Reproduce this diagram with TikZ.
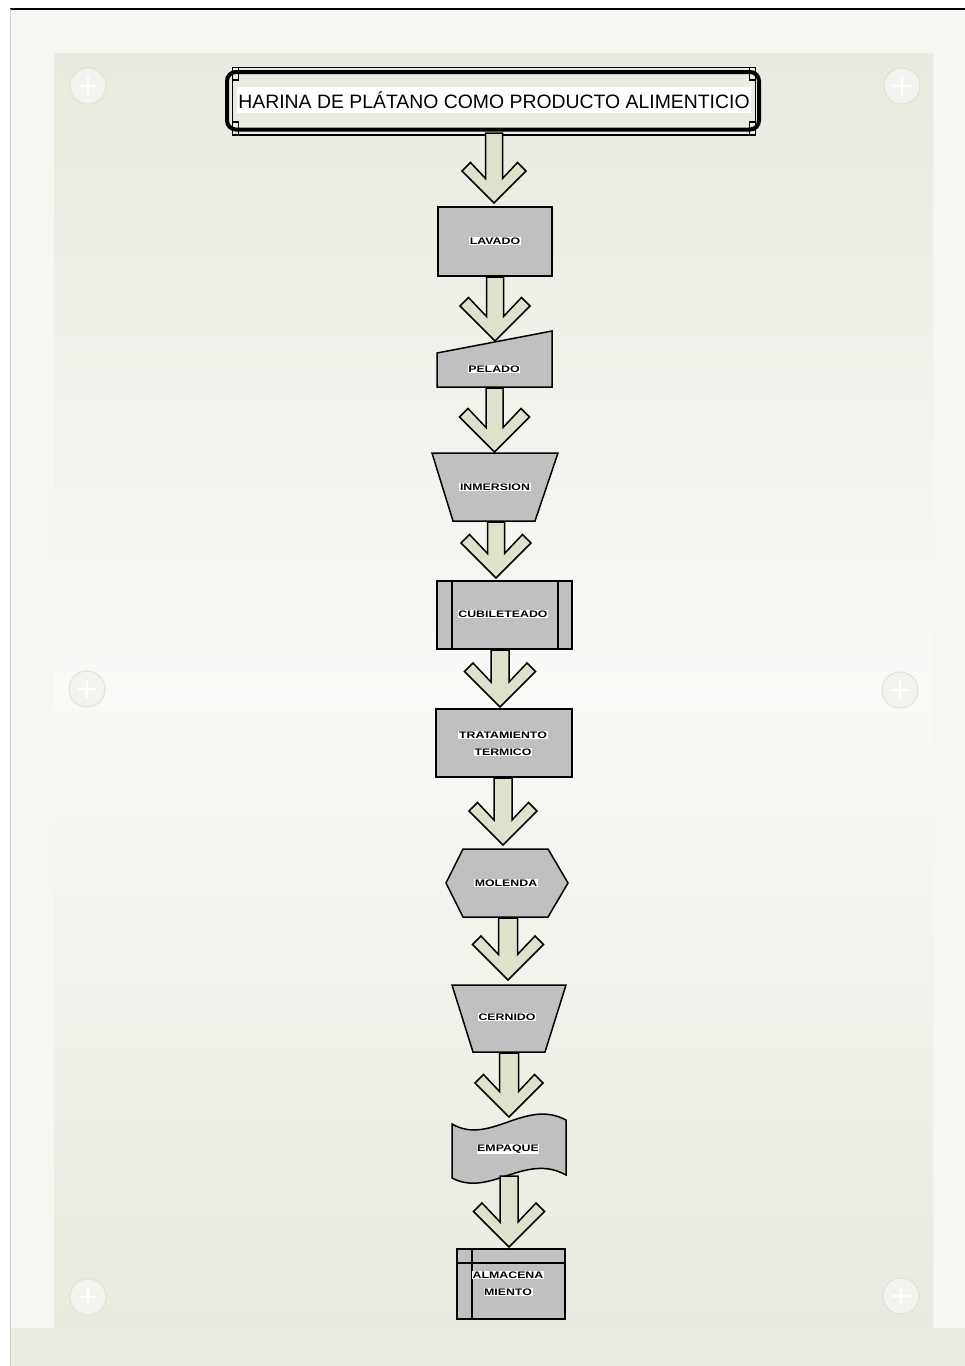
\documentclass[tikz,border=0pt]{standalone}
\usepackage{fontspec}
\usepackage{graphicx}
\usetikzlibrary{calc}
\newfontfamily\arialf{Liberation Sans}
\definecolor{shapegray}{HTML}{C0C0C0}
\definecolor{arrowgreen}{HTML}{DDE2CC}
\definecolor{pagebg}{HTML}{F6F6F3}
\definecolor{panelgreen}{HTML}{E8EBDF}
\definecolor{panellight}{HTML}{F9F9F7}
\definecolor{btnfill}{HTML}{F3F3EF}
\definecolor{btnedge}{HTML}{E0E2D6}
\newcommand\wtxt[1]{\scalebox{1.3}[1]{#1}}
\newcommand\barrow[4]{%
  \draw[barr] let \p1=(#1), \p2=(#2) in
    (\x2-#4pt,\y1) -- (\x2-#4pt,\y2+16pt+#4pt) -- (\x2-#3pt+8.5pt,\y2+#3pt+8.5pt)
    -- (\x2-#3pt,\y2+#3pt) -- (\x2,\y2) -- (\x2+#3pt,\y2+#3pt)
    -- (\x2+#3pt-8.5pt,\y2+#3pt+8.5pt) -- (\x2+#4pt,\y2+16pt+#4pt) -- (\x2+#4pt,\y1) -- cycle;}
\begin{document}
\begin{tikzpicture}[x=1pt,y=-1pt,
  shp/.style={draw=black,line width=1.5pt,fill=shapegray,line join=miter},
  barr/.style={draw=black,line width=1.5pt,fill=arrowgreen,line join=miter},
  lbl/.style={fill=white,inner sep=0.6pt,font=\arialf\bfseries\fontsize{9.5}{10}\selectfont},
  btn/.style={fill=btnfill,draw=btnedge,line width=1pt},
  plus/.style={draw=white,line width=1.6pt},
  thinframe/.style={line width=1.4pt}]
\useasboundingbox (0,0) rectangle (965,1366);
% background
\fill[white] (0,0) rectangle (965,1366);
\fill[pagebg] (10,9) rectangle (965,1366);
\shade[top color=panelgreen,bottom color=panellight] (54,53) rectangle (933,690);
\shade[top color=panellight,bottom color=panelgreen] (54,690) rectangle (933,1328);
\fill[panelgreen!80!pagebg] (10,1328) rectangle (965,1366);
\draw[black,line width=1.3pt] (10,9) -- (965,9);
\draw[black!20,line width=0.8pt] (10,9) -- (10,1366);
% buttons
\foreach \bx/\by in {88/86,902/86,87/689,900/690,88/1297,901/1296}{
  \draw[btn] (\bx,\by) circle (18);
  \draw[plus] (\bx-9,\by) -- (\bx+9,\by);
  \draw[plus] (\bx,\by-9) -- (\bx,\by+9);
}
% title
\draw[line width=4pt,rounded corners=9pt] (227,72) rectangle (759,129.5);
\draw[thinframe] (232.5,67.5) rectangle (755.5,135);
\draw[thinframe] (238.5,67.5) -- (238.5,80) -- (232.5,80);
\draw[thinframe] (749.5,67.5) -- (749.5,80) -- (755.5,80);
\draw[thinframe] (238.5,135) -- (238.5,122) -- (232.5,122);
\draw[thinframe] (749.5,135) -- (749.5,122) -- (755.5,122);
\node[fill=white,inner xsep=1pt,minimum height=26pt,font=\arialf\fontsize{19.4}{20}\selectfont] (title) at (494,100) {HARINA DE PLÁTANO COMO PRODUCTO ALIMENTICIO};
% LAVADO
\draw[shp] (438,207) rectangle (552,276);
\node[lbl] (lavado) at (495,241) {\wtxt{LAVADO}};
% PELADO
\draw[shp] (437,353) -- (552,331) -- (552,387) -- (437,387) -- cycle;
\node[lbl] (pelado) at (494,369) {\wtxt{PELADO}};
% INMERSION
\draw[shp] (432,453) -- (558,453) -- (535,521) -- (453,521) -- cycle;
\node[lbl] (inmersion) at (495,487) {\wtxt{INMERSION}};
% CUBILETEADO
\draw[shp] (437,581) rectangle (572,649);
\draw[line width=1.5pt] (452,581) -- (452,649);
\draw[line width=1.5pt] (558,581) -- (558,649);
\node[lbl] (cubileteado) at (503,614) {\wtxt{CUBILETEADO}};
% TRATAMIENTO TERMICO
\draw[shp] (436,709) rectangle (572,777);
\node[lbl] (trat1) at (503,735) {\wtxt{TRATAMIENTO}};
\node[lbl] (trat2) at (503,752) {\wtxt{TERMICO}};
% MOLENDA
\draw[shp] (446,883) -- (463,849) -- (548,849) -- (568,883) -- (548,917) -- (463,917) -- cycle;
\node[lbl] (molenda) at (506,883) {\wtxt{MOLENDA}};
% CERNIDO
\draw[shp] (452,985) -- (566,985) -- (545,1052) -- (473,1052) -- cycle;
\node[lbl] (cernido) at (507,1017) {\wtxt{CERNIDO}};
% EMPAQUE
\draw[shp] (452,1124) .. controls (490,1146) and (525,1098) .. (566,1120)
  -- (566,1175) .. controls (525,1152) and (490,1198) .. (452,1178) -- cycle;
\node[lbl] (empaque) at (508,1149) {\wtxt{EMPAQUE}};
% ALMACENAMIENTO
\draw[shp] (457,1249) rectangle (565,1319);
\draw[line width=1.5pt] (472,1249) -- (472,1319);
\draw[line width=1.5pt] (457,1263) -- (565,1263);
\node[lbl] (alm1) at (508,1275) {\wtxt{ALMACENA}};
\node[lbl] (alm2) at (508,1292) {\wtxt{MIENTO}};
% arrow coordinates
\coordinate (a1s) at (494,133);  \coordinate (a1t) at (494,203);
\coordinate (a2s) at (495,277);  \coordinate (a2t) at (495,341);
\coordinate (a3s) at (494.5,388); \coordinate (a3t) at (494.5,452);
\coordinate (a4s) at (496,522);  \coordinate (a4t) at (496,578);
\coordinate (a5s) at (500,650);  \coordinate (a5t) at (500,707);
\coordinate (a6s) at (503,778);  \coordinate (a6t) at (503,845);
\coordinate (a7s) at (508,918);  \coordinate (a7t) at (508,980);
\coordinate (a8s) at (509,1053); \coordinate (a8t) at (509,1117);
\coordinate (a9s) at (509,1176); \coordinate (a9t) at (509,1247);
\barrow{a1s}{a1t}{32}{8.5}
\barrow{a2s}{a2t}{35}{8.5}
\barrow{a3s}{a3t}{35}{8.5}
\barrow{a4s}{a4t}{35}{8.5}
\barrow{a5s}{a5t}{35.5}{9}
\barrow{a6s}{a6t}{34}{9}
\barrow{a7s}{a7t}{35.5}{9.5}
\barrow{a8s}{a8t}{34}{9.5}
\barrow{a9s}{a9t}{35.5}{9}
\end{tikzpicture}
\end{document}
